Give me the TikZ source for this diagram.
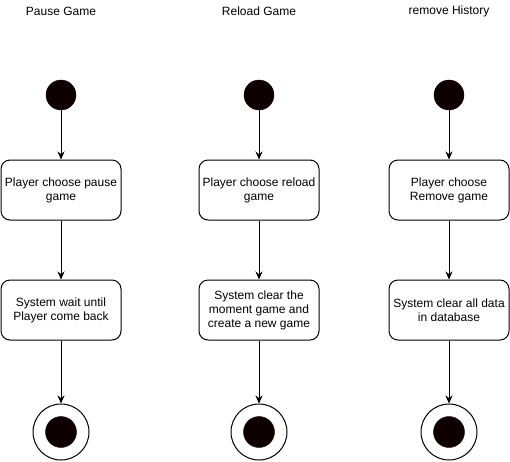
\documentclass[tikz,border=0pt]{standalone}
\usepackage{fontspec}
\setmainfont{Liberation Sans}
\usetikzlibrary{arrows.meta}
\begin{document}
\begin{tikzpicture}[x=1pt,y=-1pt,
  every node/.style={font=\fontsize{12}{14}\selectfont},
  actbox/.style={draw=black, line width=1pt, rounded corners=9pt, minimum width=120pt, minimum height=60pt, align=center, inner sep=0pt, fill=white},
  startdot/.style={circle, fill=black!94!red, draw=black!94!red, minimum size=30pt, inner sep=0pt},
  endring/.style={circle, draw=black, line width=1pt, fill=white, minimum size=56pt, inner sep=0pt},
  enddot/.style={circle, fill=black!94!red, draw=black!94!red, minimum size=31pt, inner sep=0pt},
  flow/.style={draw=black, line width=1pt, -{Stealth[length=8pt,width=7pt]}},
  title/.style={inner sep=0pt}
]
\useasboundingbox (0,0) rectangle (510,461);
\fill[white] (0,0) rectangle (510,461);

% titles
\node[title] (t1) at (61,11) {Pause Game};
\node[title] (t2) at (259,11) {Reload Game};
\node[title] (t3) at (449,11) {remove History};

% column 1
\node[startdot] (s1) at (61,95) {};
\node[actbox] (a1) at (61,190) {Player choose pause\\game};
\node[actbox] (b1) at (61,310) {System wait until\\Player come back};
\node[endring] (e1) at (61,432) {};
\node[enddot] (f1) at (61,432) {};

% column 2
\node[startdot] (s2) at (259,95) {};
\node[actbox] (a2) at (259,190) {Player choose reload\\game};
\node[actbox] (b2) at (259,310) {System clear the\\moment game and\\create a new game};
\node[endring] (e2) at (259,432) {};
\node[enddot] (f2) at (259,432) {};

% column 3
\node[startdot] (s3) at (449,95) {};
\node[actbox] (a3) at (449,190) {Player choose\\Remove game};
\node[actbox] (b3) at (449,310) {System clear all data\\in database};
\node[endring] (e3) at (449,432) {};
\node[enddot] (f3) at (449,432) {};

\draw[flow] (s1) -- (a1);
\draw[flow] (a1) -- (b1);
\draw[flow] (b1) -- (e1);
\draw[flow] (s2) -- (a2);
\draw[flow] (a2) -- (b2);
\draw[flow] (b2) -- (e2);
\draw[flow] (s3) -- (a3);
\draw[flow] (a3) -- (b3);
\draw[flow] (b3) -- (e3);
\end{tikzpicture}
\end{document}
